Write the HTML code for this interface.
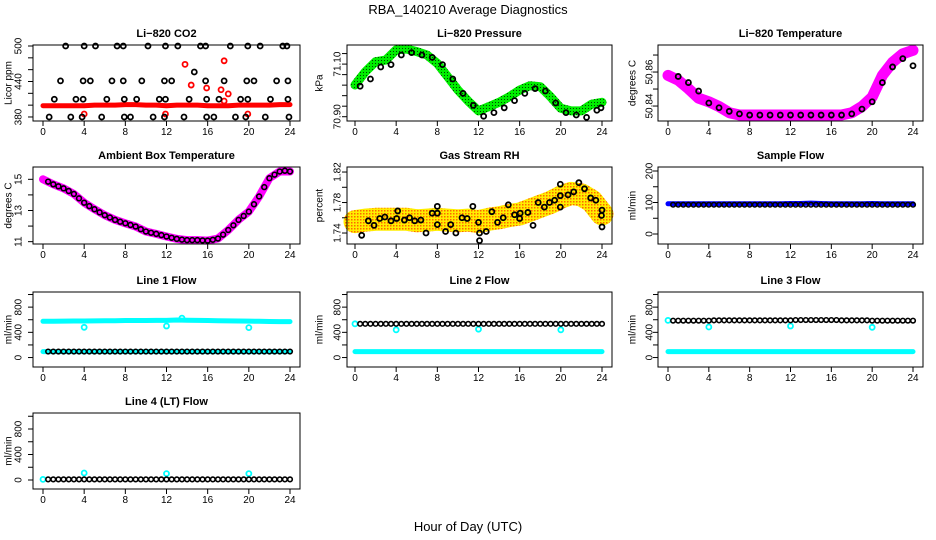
<!DOCTYPE html>
<html><head><meta charset="utf-8"><style>
html,body{margin:0;padding:0;background:#fff;}
svg{display:block;font-family:"Liberation Sans",sans-serif;}
</style></head><body>
<svg id="chart" width="936" height="540" viewBox="0 0 936 540" xmlns="http://www.w3.org/2000/svg">
<defs>
<pattern id="gdots" width="3" height="3" patternUnits="userSpaceOnUse"><rect width="3" height="3" fill="#00ee00"/><rect width="1" height="1" fill="#004400"/></pattern>
<pattern id="ydots" width="3" height="3" patternUnits="userSpaceOnUse"><rect width="3" height="3" fill="#ffee00"/><rect width="1.5" height="1.5" fill="#ff6600"/></pattern>
</defs>
<text x="468" y="14" font-size="13" text-anchor="middle">RBA_140210  Average Diagnostics</text>
<text x="468" y="531" font-size="13" text-anchor="middle">Hour of Day (UTC)</text>
</svg>
<script>
// ---- data ----
const hours = [0,1,2,3,4,5,6,7,8,9,10,11,12,13,14,15,16,17,18,19,20,21,22,23,24];
const halfHours = [0.5,1,1.5,2,2.5,3,3.5,4,4.5,5,5.5,6,6.5,7,7.5,8,8.5,9,9.5,10,10.5,11,11.5,12,12.5,13,13.5,14,14.5,15,15.5,16,16.5,17,17.5,18,18.5,19,19.5,20,20.5,21,21.5,22,22.5,23,23.5,24];
const xTicks = [0,4,8,12,16,20,24];

// CO2
const co2Red = [399,399,399,399,399,400,400,400,401,401,400,400,399,400,400,400,399,399,399,400,400,400,400,401,401];
const co2RedOutHours = [4,11.9,19.9,13.8,14.4,15.9,17.6,17.3,18,17.6];
const co2RedOutValues = [385,385,385,469,434,429,475,426,419,407];
const co2BlackHours = [2.2,4.0,5.1,7.2,7.8,10.2,11.9,13.1,15.3,15.8,18.2,19.9,21.1,23.3,23.7,
 1.7,3.9,4.6,6.7,7.8,9.6,11.8,12.5,15.8,17.6,19.8,20.5,22.7,23.8,
 1.1,3.2,3.9,6.2,7.9,9.1,11.3,11.9,14.2,15.9,17.1,19.2,19.9,22.1,23.8,
 0.6,2.7,3.8,5.7,7.9,8.5,10.7,11.8,13.7,15.9,16.6,18.7,19.7,21.6,23.9,14.7];
const co2BlackValues = [500,500,500,500,500,500,500,500,500,500,500,500,500,500,500,
 441,441,441,441,441,441,441,441,441,441,441,441,441,441,
 410,410,410,410,410,410,410,410,410,410,410,410,410,410,410,
 380,380,380,380,380,380,380,380,380,380,380,380,380,380,380,456];

// Pressure
const presGreen = [71.0206,71.0708,71.1091,71.1155,71.1538,71.1574,71.1474,71.1346,71.1027,71.0525,71.0014,70.9594,70.922,70.9384,70.9549,70.9759,71.0014,71.0178,71.0142,70.9759,70.9321,70.922,70.922,70.9476,70.9549];
const presBlack = [71.016,71.0434,71.089,71.0981,71.1346,71.1437,71.1346,71.1255,71.0981,71.0434,70.9886,70.943,70.9019,70.9156,70.9339,70.9612,70.9886,71.0069,70.9978,70.9521,70.9156,70.9065,70.8974,70.9247,70.9339];

// Li-820 temperature
const tempMag = [50.858,50.8552,50.8502,50.8446,50.8425,50.8397,50.8361,50.8347,50.8347,50.8347,50.8347,50.8347,50.8347,50.8347,50.8347,50.8347,50.8347,50.8347,50.8361,50.8397,50.8453,50.858,50.8658,50.8707,50.8728];
const tempBlack = [50.8574,50.8574,50.8538,50.8488,50.8418,50.839,50.8369,50.8354,50.8347,50.8347,50.8347,50.8347,50.8347,50.8347,50.8347,50.8347,50.8347,50.8347,50.8354,50.8382,50.8425,50.8538,50.863,50.8679,50.8637];

// Ambient box temperature
const ambMag = [15.0,14.68,14.42,14.06,13.5,13.08,12.7,12.4,12.18,11.97,11.65,11.5,11.33,11.18,11.1,11.1,11.07,11.2,11.75,12.4,12.93,13.9,15.07,15.5,15.5];
const ambBlack = [14.85,14.68,14.55,14.42,14.25,14.06,13.78,13.5,13.28,13.08,12.88,12.7,12.55,12.4,12.28,12.18,12.07,11.97,11.8,11.65,11.57,11.5,11.42,11.33,11.25,11.18,11.13,11.1,11.1,11.1,11.08,11.07,11.12,11.2,11.45,11.75,12.05,12.4,12.65,12.93,13.4,13.9,14.5,15.07,15.3,15.5,15.55,15.5];

// Gas stream RH
const rhCloud = [1.755,1.757,1.758,1.758,1.758,1.758,1.756,1.757,1.758,1.757,1.756,1.757,1.755,1.758,1.760,1.763,1.765,1.770,1.775,1.780,1.787,1.792,1.790,1.782,1.765];
const rhBlackHours = [0.65,1.3,1.85,2.4,2.9,3.5,4.05,4.15,4.8,5.3,5.8,6.4,6.9,7.5,8.0,8.0,8.0,8.8,9.3,9.8,10.4,10.9,11.45,12.0,12.1,12.1,12.75,13.3,13.85,14.4,14.9,15.5,16.0,16.05,16.8,17.3,17.8,18.4,18.9,19.4,19.95,19.95,19.95,20.7,21.25,21.75,22.3,22.9,23.4,24.0,23.95,24.0];
const rhBlackValues = [1.737,1.756,1.750,1.759,1.761,1.756,1.759,1.769,1.757,1.760,1.756,1.757,1.740,1.766,1.775,1.766,1.751,1.742,1.751,1.740,1.760,1.759,1.775,1.754,1.740,1.730,1.742,1.768,1.754,1.760,1.777,1.764,1.759,1.766,1.767,1.750,1.780,1.774,1.780,1.783,1.804,1.789,1.774,1.790,1.794,1.806,1.798,1.786,1.783,1.770,1.763,1.748];

// Sample flow
const sampleBlue = [96,96,96,96,96,96,96,96,96,96,96,96,97,97,98,97,96,96,96,96,97,96,96,96,96];
const sampleBlack = [93,93,93,93,93,93,93,93,93,93,93,93,93,93,93,93,93,93,93,93,93,93,93,93,93,93,93,93,93,93,93,93,93,93,93,93,93,93,93,93,93,93,93,93,93,93,93,93];

// Line flows
const line1Cyan = [575,575,578,580,580,582,585,585,588,588,588,590,590,595,592,590,588,585,582,580,578,575,572,570,570];
const line1CyanLow = [95,95,95,95,95,95,95,95,95,95,95,95,95,95,95,95,95,95,95,95,95,95,95,95,95];
const line1OutHours = [4,12,20,13.5];
const line1OutValues = [480,500,475,625];
const line1Black = [95,95,95,95,95,95,95,95,95,95,95,95,95,95,95,95,95,95,95,95,95,95,95,95,95,95,95,95,95,95,95,95,95,95,95,95,95,95,95,95,95,95,95,95,95,95,95,95];

const line2Cyan = [95,95,95,95,95,95,95,95,95,95,95,95,95,95,95,95,95,95,95,95,95,95,95,95,95];
const line2OutHours = [0,4,12,20];
const line2OutValues = [535,440,450,440];
const line2Black = [535,535,535,535,535,535,535,535,535,535,535,535,535,535,535,535,535,535,535,535,535,535,535,535,535,535,535,535,535,535,535,535,535,535,535,535,535,535,535,535,535,535,535,535,535,535,535,535];

const line3Cyan = [95,95,95,95,95,95,95,95,95,95,95,95,95,95,95,95,95,95,95,95,95,95,95,95,95];
const line3OutHours = [0,4,12,20];
const line3OutValues = [590,485,500,480];
const line3Black = [585,585,585,585,585,585,585,585,590,590,590,590,590,590,590,590,590,590,590,590,590,590,590,590,595,595,595,595,595,595,595,595,595,590,590,590,590,590,590,585,585,585,585,585,585,585,585,585];

const line4OutHours = [0,4,12,20];
const line4OutValues = [10,110,100,100];
const line4Black = [10,10,10,10,10,10,10,10,10,10,10,10,10,10,10,10,10,10,10,10,10,10,10,10,10,10,10,10,10,10,10,10,10,10,10,10,10,10,10,10,10,10,10,10,10,10,10,10];

// ---- layout ----
const NS = "http://www.w3.org/2000/svg";
const svg = document.getElementById('chart');
const cols = [{l:33,r:300,x0:43,x24:290,lab:18,tit:8},{l:347,r:612,x0:355,x24:602,lab:337,tit:319},{l:658,r:923,x0:668,x24:913,lab:649,tit:632}];
const rows = [{t:45,b:121},{t:167,b:244},{t:292,b:367},{t:413,b:489}];

function mk(tag, attrs, parent){
  const e = document.createElementNS(NS, tag);
  for (const k in attrs) e.setAttribute(k, attrs[k]);
  (parent||svg).appendChild(e);
  return e;
}

function panel(name, title, ci, ri, ymin, ymax, yTicks, yLabels, ytitle){
  const c = cols[ci], r = rows[ri];
  const g = mk('g', {});
  
  
  const sx = h => c.x0 + (h/24)*(c.x24 - c.x0);
  const sy = v => r.b - (v - ymin)/(ymax - ymin)*(r.b - r.t);
  const t = mk('text', {x:(c.l+c.r)/2, y:r.t-8, 'font-size':11, 'font-weight':'bold', 'text-anchor':'middle'}, g);
  t.textContent = title;
  
  
  const plot = mk('g', {}, g);
  
  
  const xa = mk('g', {}, g);
  
  
  xTicks.forEach(h => {
    mk('line', {x1:sx(h), x2:sx(h), y1:r.b, y2:r.b+5, stroke:'#000', 'stroke-width':1}, xa);
    const tl = mk('text', {x:sx(h), y:r.b+14, 'font-size':10, 'text-anchor':'middle'}, xa);
    tl.textContent = h;
  });
  const ya = mk('g', {}, g);
  
  
  yTicks.forEach(v => mk('line', {x1:c.l-5, x2:c.l, y1:sy(v), y2:sy(v), stroke:'#000', 'stroke-width':1}, ya));
  yLabels.forEach(v => {
    const y = sy(v);
    const tl = mk('text', {x:c.lab, y:y, 'font-size':10, 'text-anchor':'middle', transform:`rotate(-90 ${c.lab} ${y})`, dy:'3.5'}, ya);
    tl.textContent = v;
  });
  const yt = mk('text', {x:c.tit, y:(r.t+r.b)/2, 'font-size':10, 'text-anchor':'middle', transform:`rotate(-90 ${c.tit} ${(r.t+r.b)/2})`, dy:'3.5'}, ya);
  yt.textContent = ytitle;
  
  
  const box = mk('rect', {x:c.l, y:r.t, width:c.r-c.l, height:r.b-r.t, fill:'none', stroke:'#000', 'stroke-width':1}, g);
  
  
  return {sx, sy, plot, g};
}

function band(p, hs, vs, color, w, nm){
  const pts = hs.map((h,i) => p.sx(h).toFixed(1)+','+p.sy(vs[i]).toFixed(1)).join(' ');
  const pl = mk('polyline', {points:pts, fill:'none', stroke:color, 'stroke-width':w, 'stroke-linejoin':'round', 'stroke-linecap':'round'}, p.plot);
  
  
}
function circles(p, hs, vs, color, nm, rr, sw){
  const g = mk('g', {}, p.plot);
  
  
  hs.forEach((h,i) => {
    const c = mk('circle', {cx:p.sx(h), cy:p.sy(vs[i]), r:rr||2.5, fill:'none', stroke:color, 'stroke-width':sw||1.8}, g);
    
    
  });
}

// CO2
let p = panel('co2', 'Li\u2212820 CO2', 0, 0, 373.2, 501.7, [380,400,420,440,460,480,500], [380,440,500], 'Licor ppm');
band(p, hours, co2Red, '#ff0000', 5, 'co2-red-band');
circles(p, co2RedOutHours, co2RedOutValues, '#ff0000', 'co2-red-outliers');
circles(p, co2BlackHours, co2BlackValues, '#000', 'co2-black-points');

// Pressure
p = panel('pressure', 'Li\u2212820 Pressure', 1, 0, 70.8837, 71.1726, [70.90,70.94,70.98,71.02,71.06,71.10,71.14], [70.90,71.10], 'kPa');
band(p, hours, presGreen, 'url(#gdots)', 9, 'pressure-green-band');
circles(p, hours.map(h => Math.min(h+0.5, 23.9)), presBlack, '#000', 'pressure-black-points');
p.g.querySelectorAll('text').forEach(t => { if (t.textContent === '70.9') t.textContent = '70.90'; if (t.textContent === '71.1') t.textContent = '71.10'; });

// Li-820 temperature
p = panel('li820-temp', 'Li\u2212820 Temperature', 2, 0, 50.8312, 50.8759, [50.84,50.85,50.86,50.87], [50.84,50.86], 'degrees C');
band(p, hours, tempMag, '#ff00ff', 11, 'li820-temp-magenta-band');
circles(p, hours.slice(1), tempBlack.slice(1), '#000', 'li820-temp-black-points');

// Ambient
p = panel('ambient', 'Ambient Box Temperature', 0, 1, 10.85, 15.79, [11,12,13,14,15], [11,13,15], 'degrees C');
band(p, hours, ambMag, '#ff00ff', 8, 'ambient-magenta-band');
circles(p, halfHours, ambBlack, '#000', 'ambient-black-points', 2.4, 1.6);

// RH
p = panel('rh', 'Gas Stream RH', 1, 1, 1.7256, 1.8266, [1.74,1.76,1.78,1.80,1.82], [1.74,1.78,1.82], 'percent');
band(p, hours, rhCloud, 'url(#ydots)', 23, 'rh-yellow-cloud');
circles(p, rhBlackHours, rhBlackValues, '#000', 'rh-black-points');

// Sample flow
p = panel('sample-flow', 'Sample Flow', 2, 1, -31.7, 212.7, [0,50,100,150,200], [0,100,200], 'ml/min');
band(p, hours, sampleBlue, '#0000ff', 5, 'sample-flow-blue-band');
circles(p, halfHours, sampleBlack, '#000', 'sample-flow-black-points', 2.3, 1.6);

const fT = [0,200,400,600,800,1000], fL = [0,400,800];
// Line 1
p = panel('line1', 'Line 1 Flow', 0, 2, -150, 1040, fT, fL, 'ml/min');
band(p, hours, line1Cyan, '#00ffff', 5, 'line1-cyan-band');
band(p, hours, line1CyanLow, '#00ffff', 5, 'line1-cyan-low-band');
circles(p, line1OutHours, line1OutValues, '#00ffff', 'line1-cyan-outliers');
circles(p, halfHours, line1Black, '#000', 'line1-black-points', 2.3, 1.6);

// Line 2
p = panel('line2', 'Line 2 Flow', 1, 2, -150, 1040, fT, fL, 'ml/min');
band(p, hours, line2Cyan, '#00ffff', 5, 'line2-cyan-band');
circles(p, line2OutHours, line2OutValues, '#00ffff', 'line2-cyan-outliers');
circles(p, halfHours, line2Black, '#000', 'line2-black-points', 2.3, 1.6);

// Line 3
p = panel('line3', 'Line 3 Flow', 2, 2, -150, 1040, fT, fL, 'ml/min');
band(p, hours, line3Cyan, '#00ffff', 5, 'line3-cyan-band');
circles(p, line3OutHours, line3OutValues, '#00ffff', 'line3-cyan-outliers');
circles(p, halfHours, line3Black, '#000', 'line3-black-points', 2.3, 1.6);

// Line 4
p = panel('line4', 'Line 4 (LT) Flow', 0, 3, -141, 1051, fT, fL, 'ml/min');
circles(p, line4OutHours, line4OutValues, '#00ffff', 'line4-cyan-outliers');
circles(p, halfHours, line4Black, '#000', 'line4-black-points', 2.3, 1.6);
</script>
</body></html>
